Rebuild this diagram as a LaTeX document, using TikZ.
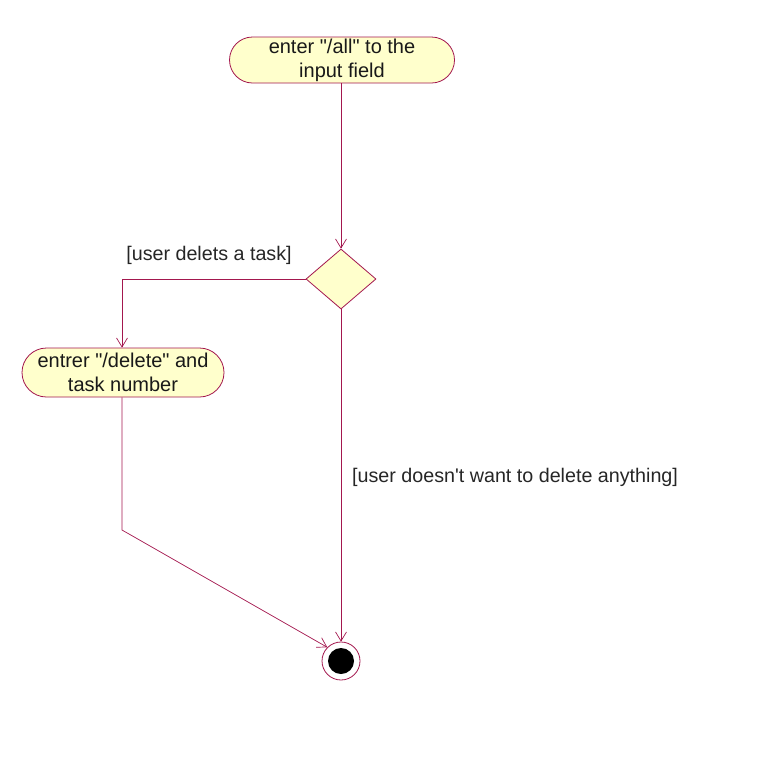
\documentclass[tikz,border=0pt]{standalone}
\usepackage{fontspec}
\setmainfont{Liberation Sans}[Ligatures=TeXOff]
\usetikzlibrary{shapes.geometric,shapes.misc,arrows.meta}
\definecolor{umlline}{HTML}{A3174E}
\definecolor{umlfill}{HTML}{FFFFCC}
\tikzset{
  activity/.style={rounded rectangle, draw=umlline, fill=umlfill, line width=0.8pt, align=center, font=\fontsize{20}{24}\selectfont, text=black!90, inner sep=0pt},
  decision/.style={diamond, draw=umlline, fill=umlfill, line width=0.8pt, minimum width=70pt, minimum height=60pt, inner sep=0pt, aspect=1.17},
  flow/.style={draw=umlline, line width=0.7pt, -{Straight Barb[length=9pt,width=11pt]}},
  guard/.style={font=\fontsize{19.7}{24}\selectfont, text=black!85, inner sep=0pt}
}
\begin{document}
\begin{tikzpicture}[x=1pt,y=-1pt]
\useasboundingbox (0,0) rectangle (762,761);
\node[activity, minimum width=225pt, minimum height=46pt] (a) at (342,60) {enter "/all" to the\\input field};
\node[decision] (d) at (341,279) {};
\node[activity, minimum width=202pt, minimum height=49pt] (b) at (123,372.5) {entrer "/delete" and\\task number};
\node[circle, draw=umlline, fill=white, line width=0.8pt, minimum size=38pt, inner sep=0pt] (f) at (341,661) {};
\node[circle, fill=black, minimum size=26pt, inner sep=0pt] (fi) at (f) {};
\coordinate (c1) at (122,279);
\coordinate (c2) at (122,530);
\draw[flow] (a.south -| d.north) -- (d.north);
\draw[flow] (d.west) -- (c1) -- (c1 |- b.north);
\draw[flow] (d.south) -- (f.north);
\draw[flow] (b.south -| c2) -- (c2) -- (f.north west);
\node[guard] (g1) at (209,255) {[user delets a task]};
\node[guard, anchor=west] (g2) at (352,477) {[user doesn't want to delete anything]};
\end{tikzpicture}
\end{document}
